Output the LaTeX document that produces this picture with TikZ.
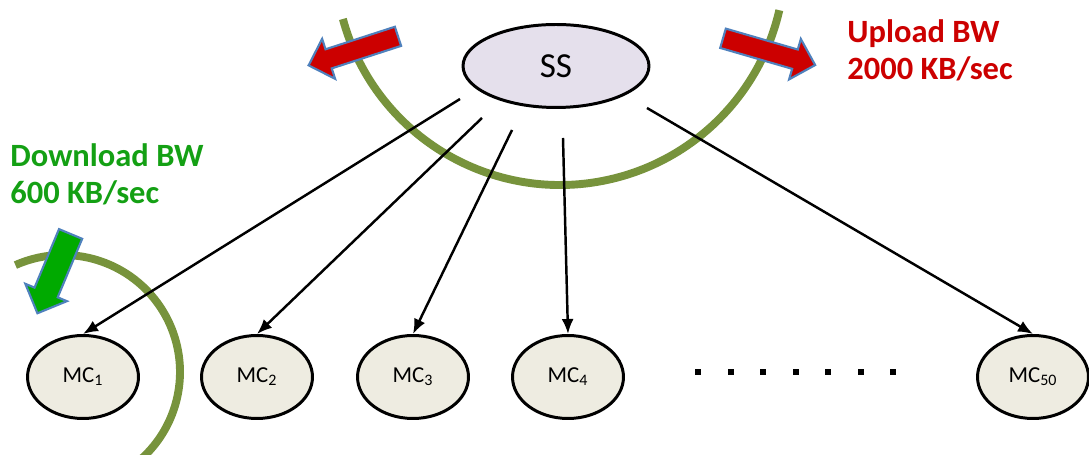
\documentclass[tikz,border=0pt]{standalone}
\usepackage{fontspec}
\setmainfont{Carlito}
\usetikzlibrary{arrows.meta}
\usetikzlibrary{shapes.geometric}
\usetikzlibrary{shapes.arrows}

\definecolor{ssfill}{RGB}{229,224,236}
\definecolor{mcfill}{RGB}{238,236,225}
\definecolor{bandgreen}{RGB}{119,147,60}
\definecolor{upred}{RGB}{204,0,0}
\definecolor{downgreen}{RGB}{0,170,0}
\definecolor{txtgreen}{RGB}{20,160,20}
\definecolor{edgeblue}{RGB}{79,129,189}

\begin{document}
\begin{tikzpicture}[x=0.02cm, y=0.02cm,
    server/.style={ellipse, draw, line width=1.7pt, fill=ssfill, minimum width=3.72cm,
      minimum height=1.66cm, inner sep=0pt, font=\fontsize{20}{24}\selectfont},
    client/.style={ellipse, draw, line width=1.7pt, fill=mcfill, minimum width=2.22cm,
      minimum height=1.66cm, inner sep=0pt, font=\fontsize{13}{15}\selectfont},
    link/.style={line width=1.4pt, -{Latex[length=0.3cm, width=0.24cm]}},
    band/.style={bandgreen, line width=4.5pt},
    bwarrow/.style={single arrow, draw=edgeblue, line width=1.2pt, inner xsep=0pt},
    bwtext/.style={anchor=north west, inner sep=0pt, align=left,
      font=\fontsize{18.5}{21}\selectfont\bfseries}]
  \useasboundingbox (0,0) rectangle (1089,455);

  % bandwidth bands
  \draw[band] (560,495) ++(195.2:225) arc[start angle=195.2, end angle=347.1, radius=225];
  \draw[band] (63,83) ++(114:117) arc[start angle=114, end angle=-48, radius=117];

  % server and clients
  \node[server] (ss) at (556,389) {SS};
  \node[client] (mc1) at (83,78) {MC\textsubscript{1}};
  \node[client] (mc2) at (257,78) {MC\textsubscript{2}};
  \node[client] (mc3) at (413,78) {MC\textsubscript{3}};
  \node[client] (mc4) at (568,78) {MC\textsubscript{4}};
  \node[client] (mc50) at (1033,78) {MC\textsubscript{50}};

  \foreach \i in {0,...,6}
    \fill (698+32.5*\i,83) ++(-3,-3) rectangle ++(6,6);

  % links from the server
  \coordinate (s1) at (460,356);
  \coordinate (s2) at (482,337);
  \coordinate (s3) at (512,325);
  \coordinate (s4) at (563,317);
  \coordinate (s5) at (647,347);
  \draw[link] (s1) -- (mc1.north);
  \draw[link] (s2) -- (mc2.north);
  \draw[link] (s3) -- (mc3.north);
  \draw[link] (s4) -- (mc4.north);
  \draw[link] (s5) -- (mc50.north);

  % upload / download arrows
  \node[bwarrow, fill=upred, inner ysep=0.18cm, single arrow head extend=0.22cm,
    minimum height=1.88cm, rotate=198, anchor=tail] (upl) at (399,419) {};
  \node[bwarrow, fill=upred, inner ysep=0.18cm, single arrow head extend=0.22cm,
    minimum height=1.92cm, rotate=-16.2, anchor=tail] (upr) at (722,417) {};
  \node[bwarrow, fill=downgreen, inner ysep=0.23cm, single arrow head extend=0.2cm,
    minimum height=1.72cm, rotate=247.3, anchor=tail] (down) at (71,222) {};

  \node[bwtext, text=txtgreen] (downlabel) at (10,312) {Download BW\\600 KB/sec};
  \node[bwtext, text=upred] (uplabel) at (847,436) {Upload BW\\2000 KB/sec};
\end{tikzpicture}
\end{document}
